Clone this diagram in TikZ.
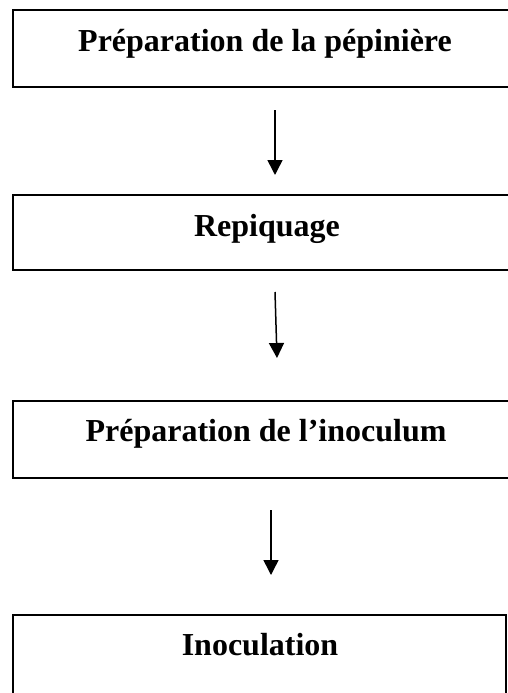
\documentclass[tikz,border=0pt]{standalone}
\usepackage{fontspec}
\setmainfont{Liberation Serif}
\usetikzlibrary{arrows.meta}
\tikzset{
  stage/.style={draw, line width=1.3pt, rectangle, inner sep=0pt, outer sep=0pt},
  label/.style={anchor=base, inner sep=0pt, font=\fontsize{32}{34}\selectfont\bfseries},
  flow/.style={line width=1.5pt, -{Triangle[length=15pt,width=15pt]}}
}
\begin{document}
\begin{tikzpicture}[x=1pt,y=-1pt]
\useasboundingbox (0,0) rectangle (508,693);
\clip (0,0) rectangle (508,693);
% stage boxes
\node[stage, minimum width=510pt, minimum height=77pt, anchor=north west] (b1) at (13,10) {};
\node[stage, minimum width=510pt, minimum height=75pt, anchor=north west] (b2) at (13,195) {};
\node[stage, minimum width=510pt, minimum height=77pt, anchor=north west] (b3) at (13,401) {};
\node[stage, minimum width=493pt, minimum height=100pt, anchor=north west] (b4) at (13,615) {};
% stage titles
\node[label] (t1) at (265,52) {Préparation de la pépinière};
\node[label] (t2) at (267,236) {Repiquage};
\node[label] (t3) at (266,441) {Préparation de l’inoculum};
\node[label] (t4) at (260,655) {Inoculation};
% arrow end points
\coordinate (a1s) at (275,110); \coordinate (a1e) at (275,175);
\coordinate (a2s) at (275,292); \coordinate (a2e) at (277,358);
\coordinate (a3s) at (271,510); \coordinate (a3e) at (271,575);
\draw[flow] (a1s) -- (a1e);
\draw[flow] (a2s) -- (a2e);
\draw[flow] (a3s) -- (a3e);
\end{tikzpicture}
\end{document}
